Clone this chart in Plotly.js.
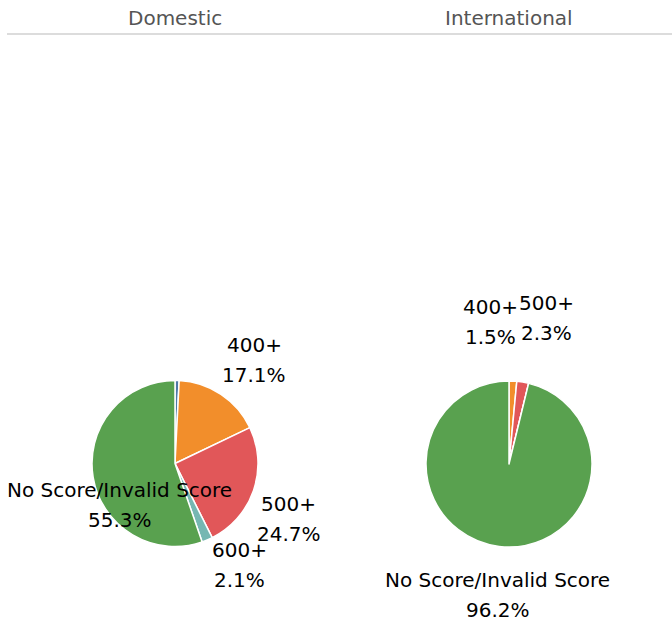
<!DOCTYPE html>
<html>
<head>
<meta charset="utf-8">
<script src="https://cdn.plot.ly/plotly-3.0.1.min.js"></script>
<style>html,body{margin:0;padding:0;background:#fff;}#chart{width:672px;height:628px;}</style>
</head>
<body>
<div id="chart"></div>
<script>
// ---- data ----
const categories = ["300+", "400+", "500+", "600+", "No Score/Invalid Score"];
const domesticValues = [0.8, 17.1, 24.7, 2.1, 55.3];
const internationalValues = [0.0, 1.5, 2.3, 0.0, 96.2];
const facetTitles = ["Domestic", "International"];

// ---- styles / layout helpers ----
const colors = ["#4e79a7", "#f28e2b", "#e15759", "#76b7b2", "#59a14f"];
const FONT = "DejaVu Sans, Verdana, sans-serif";
const W = 672, H = 628;
const pieCenters = [[175, 463.5], [509, 464]];
const pieRadius = 83;
// label anchor (first line centre, px) per facet & category; null = no label
const labelAnchors = [
  [null, [254, 345], [288.5, 503.5], [239, 550], [119.5, 490]],
  [null, [490, 307], [546, 303], null, [497.5, 580]]
];
const lineGap = 30;

function dom(cx, cy, r) {
  return { x: [(cx - r) / W, (cx + r) / W], y: [(H - cy - r) / H, (H - cy + r) / H] };
}
const px = x => x / W, py = y => 1 - y / H;

const seriesList = [domesticValues, internationalValues];

const data = seriesList.map((vals, i) => ({
  type: "pie",
  name: facetTitles[i],
  labels: categories,
  values: vals,
  sort: false,
  direction: "clockwise",
  rotation: 0,
  marker: { colors: colors, line: { color: "#ffffff", width: 1.5 } },
  textinfo: "none",
  textposition: "none",
  automargin: false,
  showlegend: false,
  domain: dom(pieCenters[i][0], pieCenters[i][1], pieRadius)
}));

const annotations = [];
facetTitles.forEach((t, i) => {
  annotations.push({ text: t, x: px(pieCenters[i][0]), y: py(18), xref: "paper", yref: "paper",
    showarrow: false, xanchor: "center", yanchor: "middle", font: { family: FONT, size: 20, color: "#555" } });
});
seriesList.forEach((vals, i) => {
  const total = vals.reduce((a, b) => a + b, 0);
  vals.forEach((v, j) => {
    const a = labelAnchors[i][j];
    if (!a || v <= 0) return;
    const pct = (v / total * 100).toFixed(1) + "%";
    [categories[j], pct].forEach((txt, k) => {
      annotations.push({ text: txt, x: px(a[0]), y: py(a[1] + k * lineGap), xref: "paper", yref: "paper",
        showarrow: false, xanchor: "center", yanchor: "middle", font: { family: FONT, size: 20, color: "#000" } });
    });
  });
});

const layout = {
  width: W, height: H,
  margin: { l: 0, r: 0, t: 0, b: 0 },
  paper_bgcolor: "#fff",
  showlegend: false,
  annotations: annotations,
  shapes: [
    { type: "line", xref: "paper", yref: "paper", x0: 7 / W, x1: 1, y0: py(34), y1: py(34), line: { color: "#d0d0d0", width: 1.5 } }
  ]
};

Plotly.newPlot("chart", data, layout, { displayModeBar: false, staticPlot: true });
</script>
</body>
</html>
